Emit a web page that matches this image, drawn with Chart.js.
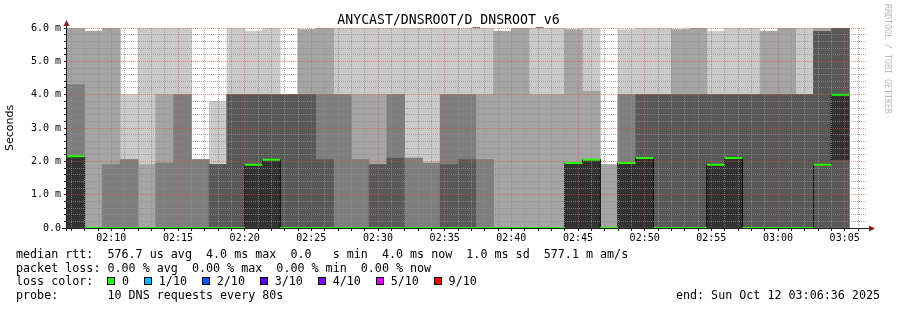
<!DOCTYPE html>
<html>
<head>
<meta charset="utf-8">
<script src="https://cdn.jsdelivr.net/npm/chart.js@4/dist/chart.umd.min.js"></script>
<style>
  html, body { margin: 0; padding: 0; background: #fff; }
  #wrap { position: relative; width: 897px; height: 310px; overflow: hidden; }
  #chart { position: absolute; left: 0; top: 0; }
  .mono { font-family: "DejaVu Sans Mono", monospace; color: #000; white-space: pre; }
  #title { position: absolute; left: 0; width: 897px; top: 12px; line-height: 16px; text-align: center; font-size: 13.2px; }
  #legend { position: absolute; left: 16px; top: 248px; font-size: 11.7px; line-height: 13.7px; }
  #legend .box { display: inline-block; width: 6px; height: 6px; border: 1px solid #000; margin-right: 6.5px; vertical-align: baseline; }
  #legend .lbl { margin-right: 15.3px; }
  #end { position: absolute; right: 17px; top: 289px; font-size: 11.7px; line-height: 13.7px; }
  #credit { position: absolute; left: 883px; top: 4px; font-size: 8.3px; color: #bbb; writing-mode: vertical-rl; }
</style>
</head>
<body>
<div id="wrap">
  <canvas id="chart" width="897" height="310"></canvas>
  <div id="title" class="mono">ANYCAST/DNSROOT/D_DNSROOT_v6</div>
  <div id="credit" class="mono">RRDTOOL / TOBI OETIKER</div>
  <div id="legend" class="mono"></div>
  <div id="end" class="mono">end: Sun Oct 12 03:06:36 2025</div>
</div>
<script>
// time slots: 80 s steps, first one starts 02:06:40 (seconds after 02:00:00)
const slotStart = 400;
const slotSeconds = 80;

// sorted ping results per slot, in ms (ping1 = fastest, ping10 = slowest)
const ping1  = [0,0,0,0,0,0,0,0,0,0, 0,0,0,0,0,0,0,0,0,0, 0,0,0,0,0,0,0,0,0,0, 0,0,0,0,0,0,0,0,0,0, 0,0,0,0];
const ping2  = [0,0,0,0,0,0,0,0,0,0, 0,0,0,0,0,0,0,0,0,0, 0,0,0,0,0,0,0,0,0,0, 0,0,0,0,0,0,0,0,0,0, 0,0,0,0];
const ping3  = [0,0,0,0,0,0,0,0,0,0, 0,0,0,0,0,0,0,0,0,0, 0,0,0,0,0,0,0,0,0,0, 0,0,0,0,0,0,0,0,0,0, 0,0,0,0];
const ping4  = [0,0,0,0,0,0,0,0,0,0, 0,0,0,0,0,0,0,0,0,0, 0,0,0,0,0,0,0,0,0,0, 0,0,0,0,0,0,0,0,0,0, 0,0,0,0];
const ping5  = [0,0,0,0,0,0,0,0,0,0, 0,0,0,0,0,0,0,0,0,0, 0,0,0,0,0,0,0,0,0,0, 0,0,0,0,0,0,0,0,0,0, 0,0,1.9,2.05];
const ping6  = [2.15,0,0,0,0,0,0,0,0,0, 1.9,2.05,0,0,0,0,0,0,0,0, 0,0,0,0,0,0,0,0,1.95,2.05, 0,1.95,2.1,0,0,0,1.9,2.1,0,0, 0,0,1.9,4.0];
const ping7  = [2.15,0,0,0,0,0,0,0,1.9,4.0, 4.0,4.0,4.0,4.0,2.05,0,0,1.9,2.1,0, 0,1.9,2.05,0,0,0,0,0,1.95,2.05, 0,1.95,4.0,4.0,4.0,4.0,4.0,4.0,4.0,4.0, 4.0,4.0,5.9,6.0];
const ping8  = [4.3,0,1.9,2.05,0,1.95,4.0,2.05,1.9,4.0, 4.0,4.0,4.0,4.0,4.0,4.0,2.05,1.9,4.0,2.1, 1.95,4.0,4.0,2.05,0,0,0,0,1.95,2.05, 0,4.0,4.0,4.0,4.0,4.0,4.0,4.0,4.0,4.0, 4.0,4.0,5.9,6.0];
const ping9  = [6.0,5.9,6.0,2.05,1.9,4.0,4.0,2.05,1.9,4.0, 4.0,4.0,4.0,5.95,6.0,4.0,4.0,4.0,4.0,2.1, 1.95,4.0,4.0,4.0,5.9,6.0,4.0,4.0,5.95,4.1, 1.9,4.0,4.0,4.0,5.95,6.0,4.0,4.0,4.0,5.9, 6.0,4.0,6.0,6.0];
const ping10 = [6.0,5.9,6.0,4.0,6.0,6.0,6.0,2.05,3.8,6.0, 5.9,6.0,4.0,5.95,6.0,6.0,6.0,6.0,6.0,6.0, 6.0,6.0,6.0,6.0,5.9,6.0,6.0,6.0,5.95,6.0, 1.9,5.95,6.0,6.0,5.95,6.0,5.9,6.0,6.0,5.9, 6.0,6.0,6.0,6.0];
const median = [2.15,0,0,0,0,0,0,0,0,0, 1.9,2.05,0,0,0,0,0,0,0,0, 0,0,0,0,0,0,0,0,1.95,2.05, 0,1.95,2.1,0,0,0,1.9,2.1,0,0, 0,0,1.9,4.0];

const timeLabels  = ['02:10','02:15','02:20','02:25','02:30','02:35','02:40','02:45','02:50','02:55','03:00','03:05'];
const valueLabels = ['0.0','1.0 m','2.0 m','3.0 m','4.0 m','5.0 m','6.0 m'];
const lossLabels  = ['0','1/10','2/10','3/10','4/10','5/10','9/10'];
const lossColors  = ['#26ff00','#00b8ff','#0059ff','#5e00ff','#7e00ff','#dd00ff','#ff0000'];

const legendLines = [
  'median rtt:  576.7 us avg  4.0 ms max  0.0   s min  4.0 ms now  1.0 ms sd  577.1 m am/s',
  'packet loss: 0.00 % avg  0.00 % max  0.00 % min  0.00 % now',
  null,
  'probe:       10 DNS requests every 80s'
];

const smokeShades = ['#cacaca', '#a4a4a4', '#7e7e7e', '#585858', '#323232'];
const minorGrid = 'rgba(143,143,143,0.75)';
const majorGrid = 'rgba(222,79,79,0.6)';
const axisColor = '#1f1f1f';
const arrowColor = '#801f1f';

// legend text
const legend = document.getElementById('legend');
legendLines.forEach(line => {
  const div = document.createElement('div');
  if (line === null) {
    div.appendChild(document.createTextNode('loss color:  '));
    lossLabels.forEach((l, i) => {
      const b = document.createElement('span');
      b.className = 'box';
      b.style.background = lossColors[i];
      const t = document.createElement('span');
      t.className = 'lbl';
      t.textContent = l;
      div.appendChild(b);
      div.appendChild(t);
    });
  } else {
    div.textContent = line;
  }
  legend.appendChild(div);
});

// chart data
const pings = [ping1, ping2, ping3, ping4, ping5, ping6, ping7, ping8, ping9, ping10];
const centers = median.map((_, i) => slotStart + slotSeconds * (i + 0.5));

// smoke band b spans ping(b+1) .. ping(10-b); all bands share one stack slot so they overlap
const smokeSets = smokeShades.map((color, b) => ({
  type: 'bar',
  data: centers.map((x, i) => ({ x: x, y: [pings[b][i], pings[9 - b][i]] })),
  backgroundColor: color,
  borderWidth: 0,
  stack: 'smoke',
  barPercentage: 1,
  categoryPercentage: 1,
  barThickness: 'flex',
  order: 6 - b
}));

const stepPoints = median.map((m, i) => ({ x: slotStart + slotSeconds * i, y: m }));
stepPoints.push({ x: slotStart + slotSeconds * median.length, y: median[median.length - 1] });

const medianSegs = [];
median.forEach((m, i) => {
  const x0 = slotStart + slotSeconds * i;
  medianSegs.push({ x: x0, y: m }, { x: x0 + slotSeconds, y: m }, { x: x0 + slotSeconds, y: null });
});

const isWhole = v => Math.abs(v - Math.round(v)) < 1e-6;
const isMajorTime = v => v >= 600 && v % 300 === 0;

const rrdArrows = {
  id: 'rrdArrows',
  afterDraw(chart) {
    const { ctx, chartArea: a } = chart;
    ctx.save();
    ctx.strokeStyle = axisColor;
    ctx.lineWidth = 1;
    ctx.beginPath();
    ctx.moveTo(a.left - 4, a.bottom + 0.5);
    ctx.lineTo(a.right + 3, a.bottom + 0.5);
    ctx.moveTo(a.left + 0.5, a.bottom + 3);
    ctx.lineTo(a.left + 0.5, a.top - 3);
    ctx.stroke();
    ctx.fillStyle = arrowColor;
    ctx.beginPath();
    ctx.moveTo(a.left + 0.5, a.top - 8);
    ctx.lineTo(a.left - 2.5, a.top - 2);
    ctx.lineTo(a.left + 3.5, a.top - 2);
    ctx.closePath();
    ctx.fill();
    ctx.beginPath();
    ctx.moveTo(a.right + 9, a.bottom + 0.5);
    ctx.lineTo(a.right + 3, a.bottom - 2.5);
    ctx.lineTo(a.right + 3, a.bottom + 3.5);
    ctx.closePath();
    ctx.fill();
    ctx.restore();
  }
};

new Chart(document.getElementById('chart'), {
  type: 'bar',
  data: {
    datasets: [
      {
        type: 'line',
        data: medianSegs,
        borderColor: lossColors[0],
        borderWidth: 2,
        pointRadius: 0,
        spanGaps: false,
        order: 0
      },
      {
        type: 'line',
        data: stepPoints,
        stepped: 'before',
        borderColor: 'rgba(0,0,0,0.85)',
        borderWidth: 1,
        pointRadius: 0,
        order: 1
      },
      ...smokeSets
    ]
  },
  options: {
    responsive: false,
    animation: false,
    devicePixelRatio: 1,
    layout: { padding: { left: 0, top: 28, right: 31, bottom: 62 } },
    plugins: {
      legend: { display: false },
      tooltip: { enabled: false },
      title: { display: false }
    },
    scales: {
      x: {
        type: 'linear',
        min: 396,
        max: 3996,
        offset: false,
        grid: {
          z: 1,
          offset: false,
          color: ctx => isMajorTime(ctx.tick.value) ? majorGrid : minorGrid,
          tickLength: 3,
          tickColor: axisColor
        },
        border: { z: 2, color: axisColor, width: 1, dash: [1, 1] },
        afterBuildTicks: scale => {
          // one tick per full minute inside the hour shown
          const ticks = [];
          for (let t = Math.ceil(scale.min / 60) * 60; t <= scale.max; t += 60) ticks.push({ value: t });
          scale.ticks = ticks;
        },
        ticks: {
          autoSkip: false,
          maxRotation: 0,
          padding: 1,
          color: '#000',
          font: { family: 'DejaVu Sans Mono', size: 10 },
          callback: v => isMajorTime(v) ? timeLabels[(v - 600) / 300] : ''
        },
        afterFit: s => { s.height = 20; }
      },
      y: {
        min: 0,
        max: 6,
        stacked: false,
        grid: {
          z: 1,
          color: ctx => isWhole(ctx.tick.value) ? majorGrid : minorGrid,
          tickLength: 2,
          tickColor: axisColor
        },
        border: { z: 2, color: axisColor, width: 1, dash: [1, 1] },
        ticks: {
          stepSize: 0.2,
          autoSkip: false,
          padding: 3,
          color: '#000',
          font: { family: 'DejaVu Sans Mono', size: 10 },
          callback: v => isWhole(v) ? valueLabels[Math.round(v)] : ''
        },
        title: {
          display: true,
          text: 'Seconds',
          color: '#000',
          font: { family: 'DejaVu Sans', size: 11 },
          padding: { top: 4, bottom: 0 }
        },
        afterFit: s => { s.width = 66; }
      }
    }
  },
  plugins: [rrdArrows]
});
</script>
</body>
</html>
